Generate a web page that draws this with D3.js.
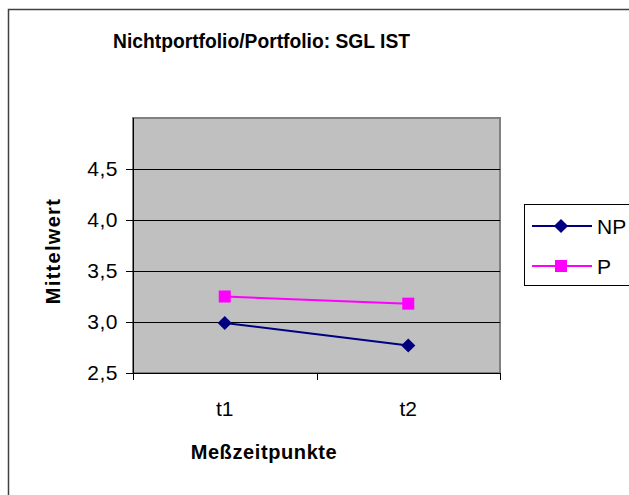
<!DOCTYPE html>
<html>
<head>
<meta charset="utf-8">
<script src="https://cdn.jsdelivr.net/npm/d3@7"></script>
<style>
  body { margin: 0; background: #fff; }
  text { font-family: "Liberation Sans", Arial, sans-serif; }
</style>
</head>
<body>
<div id="chart"></div>
<script>
// data
var categories = ["t1", "t2"];
var seriesNames = ["NP", "P"];
var npValues = [2.99, 2.77];
var pValues = [3.25, 3.18];
var yTicks = [2.5, 3.0, 3.5, 4.0, 4.5];

var svgWidth = 629;
var svgHeight = 495;

var plot = { left: 133, top: 118, right: 500, bottom: 373 };

var svg = d3.select("#chart")
  .append("svg")
  .attr("width", svgWidth)
  .attr("height", svgHeight);

svg.append("rect")
  .attr("width", svgWidth)
  .attr("height", svgHeight)
  .attr("fill", "#fff");

// outer chart frame, runs off the right and bottom edge
svg.append("rect")
  .attr("x", 8.5)
  .attr("y", 9.5)
  .attr("width", 700)
  .attr("height", 600)
  .attr("fill", "none")
  .attr("stroke", "#404040")
  .attr("stroke-width", 1.5);

// scales
var x = d3.scaleBand()
  .domain(categories)
  .range([plot.left, plot.right]);

var y = d3.scaleLinear()
  .domain([2.5, 5.0])
  .range([plot.bottom, plot.top]);

// plot area
svg.append("rect")
  .attr("x", plot.left)
  .attr("y", plot.top)
  .attr("width", plot.right - plot.left)
  .attr("height", plot.bottom - plot.top)
  .attr("fill", "#c0c0c0")
  .attr("stroke", "#808080")
  .attr("stroke-width", 2);

// gridlines
svg.append("g")
  .selectAll("line")
  .data(yTicks.slice(1))
  .enter()
  .append("line")
  .attr("x1", plot.left)
  .attr("x2", plot.right)
  .attr("y1", d => Math.round(y(d)) + 0.5)
  .attr("y2", d => Math.round(y(d)) + 0.5)
  .attr("stroke", "#000")
  .attr("stroke-width", 1);

// y axis
var leftAxis = d3.axisLeft(y)
  .tickValues(yTicks)
  .tickSize(7)
  .tickPadding(8)
  .tickFormat(d => d3.format(".1f")(d).replace(".", ","));

var yAxis = svg.append("g")
  .attr("transform", `translate(${plot.left}, 0)`)
  .call(leftAxis);
yAxis.select(".domain").attr("stroke", "#000").attr("d", `M0.5,${plot.top}V${plot.bottom}`);
yAxis.selectAll("text").attr("font-size", 21).attr("fill", "#000")
  .attr("font-family", "Liberation Sans, Arial, sans-serif")
  .attr("letter-spacing", 0.5);

// x axis: ticks at category boundaries
var bottomAxis = d3.axisBottom(x).tickSize(0).tickPadding(28);
var xAxis = svg.append("g")
  .attr("transform", `translate(0, ${plot.bottom})`)
  .call(bottomAxis);
xAxis.select(".domain").attr("stroke", "#000").attr("d", `M${plot.left},0.5H${plot.right}`);
xAxis.selectAll("text").attr("font-size", 21).attr("fill", "#000")
  .attr("font-family", "Liberation Sans, Arial, sans-serif");

var boundaries = [plot.left, x("t2"), plot.right];
xAxis.selectAll(".bound")
  .data(boundaries)
  .enter()
  .append("line")
  .attr("x1", d => Math.round(d) + 0.5)
  .attr("x2", d => Math.round(d) + 0.5)
  .attr("y1", 0)
  .attr("y2", 7)
  .attr("stroke", "#000");

// lines
var line = d3.line()
  .x((d, i) => x(categories[i]) + x.bandwidth() / 2)
  .y(d => y(d));

var seriesData = [
  { name: seriesNames[0], values: npValues, color: "#000080", size: 100, rot: 45 },
  { name: seriesNames[1], values: pValues, color: "#ff00ff", size: 144, rot: 0 }
];

seriesData.forEach(function(s) {
  svg.append("path")
    .datum(s.values)
    .attr("d", line)
    .attr("fill", "none")
    .attr("stroke", s.color)
    .attr("stroke-width", 2);

  svg.append("g")
    .selectAll("path")
    .data(s.values)
    .enter()
    .append("path")
    .attr("transform", (d, i) => `translate(${x(categories[i]) + x.bandwidth() / 2}, ${y(d)}) rotate(${s.rot})`)
    .attr("d", d3.symbol().type(d3.symbolSquare).size(s.size))
    .attr("fill", s.color);
});

// title (a bit condensed, like the original)
svg.append("text")
  .attr("x", 113)
  .attr("y", 48)
  .attr("font-size", 20)
  .attr("font-weight", "bold")
  .attr("textLength", 297)
  .attr("lengthAdjust", "spacingAndGlyphs")
  .text("Nichtportfolio/Portfolio: SGL IST");

// axis titles
svg.append("text")
  .attr("x", 264)
  .attr("y", 459)
  .attr("text-anchor", "middle")
  .attr("font-size", 20)
  .attr("font-weight", "bold")
  .attr("letter-spacing", 0.6)
  .text("Meßzeitpunkte");

svg.append("text")
  .attr("transform", "translate(60, 251) rotate(-90)")
  .attr("text-anchor", "middle")
  .attr("font-size", 20)
  .attr("font-weight", "bold")
  .attr("letter-spacing", 1.3)
  .text("Mittelwert");

// legend
var legend = svg.append("g");
legend.append("rect")
  .attr("x", 524.5)
  .attr("y", 204.5)
  .attr("width", 200)
  .attr("height", 81)
  .attr("fill", "#fff")
  .attr("stroke", "#000");

seriesData.forEach(function(s, i) {
  var ly = 226 + i * 40;
  legend.append("line")
    .attr("x1", 532)
    .attr("x2", 592)
    .attr("y1", ly)
    .attr("y2", ly)
    .attr("stroke", s.color)
    .attr("stroke-width", 2);
  legend.append("path")
    .attr("transform", `translate(561, ${ly}) rotate(${s.rot})`)
    .attr("d", d3.symbol().type(d3.symbolSquare).size(s.size))
    .attr("fill", s.color);
  legend.append("text")
    .attr("x", 597)
    .attr("y", ly + 7.5)
    .attr("font-size", 21)
    .text(s.name);
});
</script>
</body>
</html>
